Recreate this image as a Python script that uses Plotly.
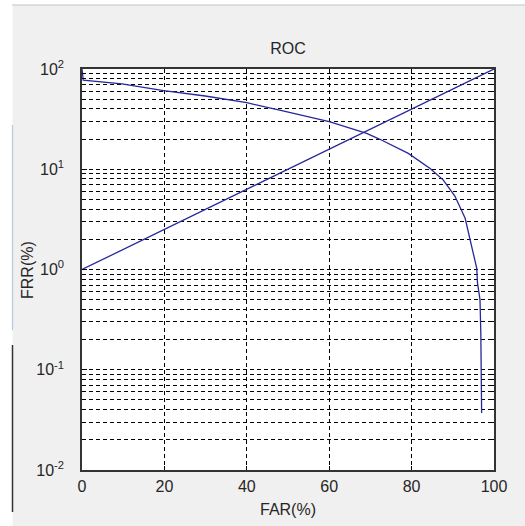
import plotly.graph_objects as go

# ---- data ----
far_line_x = [0, 100]
far_line_y = [1, 100]

roc_x = [0, 0.3, 9.7, 19.8, 29.9, 40.0, 48.5, 60.0, 69.1, 72.3, 79.2, 84.5, 87.7,
         90.5, 93.0, 94.8, 95.8, 96.0, 96.6, 96.8, 97.0]
roc_y = [100, 77.6, 70.9, 60.8, 53.8, 46.1, 38.4, 29.8, 22.8, 19.9, 14.4, 10.2, 7.8,
         5.4, 3.24, 1.57, 1.03, 0.73, 0.50, 0.23, 0.037]

x_ticks = [0, 20, 40, 60, 80, 100]
y_decades = [0.01, 0.1, 1, 10, 100]
y_decade_labels = ["10<sup>-2</sup>", "10<sup>-1</sup>", "10<sup>0</sup>",
                   "10<sup>1</sup>", "10<sup>2</sup>"]
y_minor = [d * k for d in [0.01, 0.1, 1, 10] for k in range(2, 10)]

# ---- layout geometry ----
W, H = 525, 526
L, R, T, B = 82, 31, 69, 56
pw, ph = W - L - R, H - T - B


def px(x):
    return (x - L) / pw


def py(y):
    return (H - B - y) / ph


LINE = "#27279a"
FONT = "Liberation Sans, Arial, sans-serif"
TXT = "#262626"

fig = go.Figure()
fig.add_trace(go.Scatter(x=far_line_x, y=far_line_y, mode="lines",
                         line=dict(color=LINE, width=1.3), showlegend=False))
fig.add_trace(go.Scatter(x=roc_x, y=roc_y, mode="lines",
                         line=dict(color=LINE, width=1.3), showlegend=False))

grid = dict(showgrid=True, gridcolor="black", gridwidth=1, griddash="4px,3px")

fig.update_xaxes(range=[0, 100], tickmode="array", tickvals=x_ticks,
                 ticks="inside", ticklen=4, tickcolor="black",
                 showline=True, linecolor="#333", linewidth=1.5, mirror="ticks",
                 zeroline=False, ticklabelstandoff=1, automargin=False,
                 tickfont=dict(family=FONT, size=16, color=TXT),
                 **grid)
fig.update_yaxes(type="log", range=[-2, 2], tickmode="array", tickvals=y_decades,
                 ticktext=y_decade_labels,
                 ticks="inside", ticklen=5, tickcolor="black",
                 showline=True, linecolor="#333", linewidth=1.5, mirror="ticks",
                 zeroline=False, ticklabelstandoff=13, automargin=False,
                 tickfont=dict(family=FONT, size=16, color=TXT),
                 minor=dict(tickmode="array", tickvals=y_minor, ticks="inside", ticklen=3,
                            tickcolor="black", **grid),
                 **grid)

shapes = [
    dict(type="rect", xref="paper", yref="paper", x0=px(0), x1=px(12.5), y0=py(H), y1=py(0),
         fillcolor="white", line=dict(width=0), layer="below"),
    dict(type="rect", xref="paper", yref="paper", x0=px(0), x1=px(W), y0=py(4.5), y1=py(0),
         fillcolor="white", line=dict(width=0), layer="below"),
    dict(type="line", xref="paper", yref="paper", x0=px(12), x1=px(W), y0=py(5), y1=py(5),
         line=dict(color="#c2c9d4", width=1.2)),
    dict(type="line", xref="paper", yref="paper", x0=px(12.5), x1=px(12.5), y0=py(125), y1=py(330),
         line=dict(color="#b5c7e3", width=1.2)),
    dict(type="line", xref="paper", yref="paper", x0=px(12.5), x1=px(12.5), y0=py(345), y1=py(512),
         line=dict(color="#333333", width=1.5)),
]

annotations = [
    dict(text="FAR(%)", xref="paper", yref="paper", x=px(288), y=py(509),
         xanchor="center", yanchor="middle", showarrow=False,
         font=dict(family=FONT, size=16, color=TXT)),
    dict(text="FRR(%)", xref="paper", yref="paper", x=px(27), y=py(270),
         xanchor="center", yanchor="middle", showarrow=False, textangle=-90,
         font=dict(family=FONT, size=16, color=TXT)),
]

fig.update_layout(
    width=W, height=H,
    margin=dict(l=L, r=R, t=T, b=B, pad=0),
    paper_bgcolor="#f0f0f0", plot_bgcolor="white",
    title=dict(text="ROC", x=0.5, xref="paper", xanchor="center",
               y=1 - 48 / H, yref="container", yanchor="middle",
               font=dict(family=FONT, size=16, color=TXT)),
    shapes=shapes,
    annotations=annotations,
)

fig.write_html("out.html", config={"displayModeBar": False},
               post_script="document.body.style.margin='0';")
